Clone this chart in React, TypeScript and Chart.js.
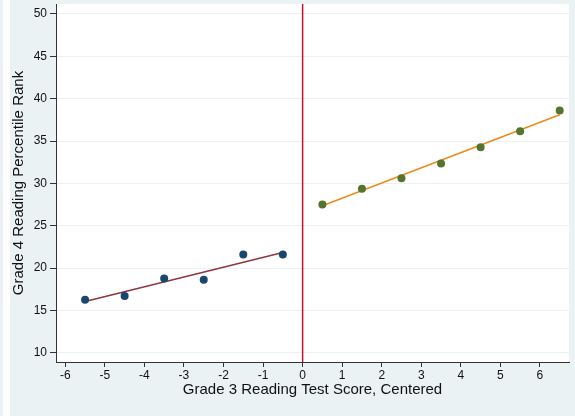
import React, { useEffect, useRef } from "react";
import { Chart, registerables } from "chart.js";

Chart.register(...registerables);

const xTicks = [-6, -5, -4, -3, -2, -1, 0, 1, 2, 3, 4, 5, 6];
const yTicks = [10, 15, 20, 25, 30, 35, 40, 45, 50];

const leftBinX = [-5.5, -4.5, -3.5, -2.5, -1.5, -0.5];
const leftBinY = [16.25, 16.7, 18.75, 18.6, 21.6, 21.6];
const rightBinX = [0.5, 1.5, 2.5, 3.5, 4.5, 5.5, 6.5];
const rightBinY = [27.5, 29.35, 30.6, 32.35, 34.25, 36.15, 38.6];

const leftFitX = [-5.5, -0.5];
const leftFitY = [16.05, 21.83];
const rightFitX = [0.5, 6.5];
const rightFitY = [27.35, 38.1];

const cutoff = 0;
const xMin = -6.235;
const xMax = 6.735;
const yMin = 8.9;
const yMax = 51.18;

const xTitle = "Grade 3 Reading Test Score, Centered";
const yTitle = "Grade 4 Reading Percentile Rank";

const zip = (xs: number[], ys: number[]) => xs.map((x, i) => ({ x, y: ys[i] }));

const FONT = "'Liberation Sans', Arial, Helvetica, sans-serif";

export default function App() {
  const ref = useRef<HTMLCanvasElement | null>(null);

  useEffect(() => {
    document.body.style.margin = "0";
    const canvas = ref.current;
    if (!canvas) return;

    const bgPlugin = {
      id: "bg",
      beforeDraw(chart: any) {
        const { ctx, chartArea } = chart;
        ctx.save();
        ctx.fillStyle = "#EAF2F3";
        ctx.fillRect(0, 0, chart.width, chart.height);
        ctx.fillStyle = "#FFFFFF";
        ctx.fillRect(3, 0, 7, chart.height);
        ctx.fillRect(
          chartArea.left,
          chartArea.top,
          chartArea.right - chartArea.left,
          chartArea.bottom - chartArea.top
        );
        ctx.restore();
      },
    };

    const chart = new Chart(canvas, {
      type: "scatter",
      data: {
        datasets: [
          {
            label: "Below cutoff",
            data: zip(leftBinX, leftBinY),
            backgroundColor: "#1a476f",
            borderColor: "#1a476f",
            pointRadius: 4,
            pointBorderWidth: 0,
            order: 1,
          },
          {
            label: "Above cutoff",
            data: zip(rightBinX, rightBinY),
            backgroundColor: "#55752f",
            borderColor: "#55752f",
            pointRadius: 4,
            pointBorderWidth: 0,
            order: 1,
          },
          {
            label: "Fit below",
            data: zip(leftFitX, leftFitY),
            showLine: true,
            borderColor: "#90353b",
            borderWidth: 1.5,
            pointRadius: 0,
            order: 2,
          },
          {
            label: "Fit above",
            data: zip(rightFitX, rightFitY),
            showLine: true,
            borderColor: "#ec8a1a",
            borderWidth: 1.5,
            pointRadius: 0,
            order: 2,
          },
          {
            label: "Cutoff",
            data: [
              { x: cutoff, y: yMin },
              { x: cutoff, y: yMax },
            ],
            showLine: true,
            borderColor: "#c8102e",
            borderWidth: 1.5,
            pointRadius: 0,
            order: 3,
          },
        ],
      },
      options: {
        animation: false,
        responsive: false,
        maintainAspectRatio: false,
        events: [],
        layout: { padding: { left: 0, top: 4, right: 6, bottom: 0 } },
        plugins: {
          legend: { display: false },
          tooltip: { enabled: false },
        },
        scales: {
          x: {
            type: "linear",
            min: xMin,
            max: xMax,
            afterFit(scale: any) {
              scale.height = 54;
              scale.paddingLeft = 0;
              scale.paddingRight = 0;
            },
            afterBuildTicks(scale: any) {
              scale.ticks = xTicks.map((v) => ({ value: v }));
            },
            ticks: {
              color: "#111",
              font: { family: FONT, size: 12 },
              padding: 1,
              maxRotation: 0,
              autoSkip: false,
            },
            grid: {
              drawOnChartArea: false,
              drawTicks: true,
              tickLength: 5,
              tickColor: "#333",
            },
            border: { display: true, color: "#333", width: 1 },
            title: {
              display: true,
              text: xTitle,
              color: "#111",
              font: { family: FONT, size: 15 },
              padding: { top: 0, bottom: 17 },
            },
          },
          y: {
            type: "linear",
            min: yMin,
            max: yMax,
            afterFit(scale: any) {
              scale.width = 56;
              scale.paddingTop = 0;
              scale.paddingBottom = 0;
            },
            afterBuildTicks(scale: any) {
              scale.ticks = yTicks.map((v) => ({ value: v }));
            },
            ticks: {
              color: "#111",
              font: { family: FONT, size: 12 },
              padding: 3,
              autoSkip: false,
            },
            grid: {
              color: "#EAF2F3",
              lineWidth: 1,
              drawTicks: true,
              tickLength: 6,
              tickColor: "#333",
            },
            border: { display: true, color: "#333", width: 1 },
            title: {
              display: true,
              text: yTitle,
              color: "#111",
              font: { family: FONT, size: 15 },
              padding: { top: 10, bottom: 0 },
            },
          },
        },
      },
      plugins: [bgPlugin],
    } as any);

    return () => chart.destroy();
  }, []);

  return (
    <div style={{ position: "absolute", left: 0, top: 0, width: 575, height: 416 }}>
      <canvas ref={ref} width={575} height={416} style={{ width: 575, height: 416, display: "block" }} />
    </div>
  );
}
